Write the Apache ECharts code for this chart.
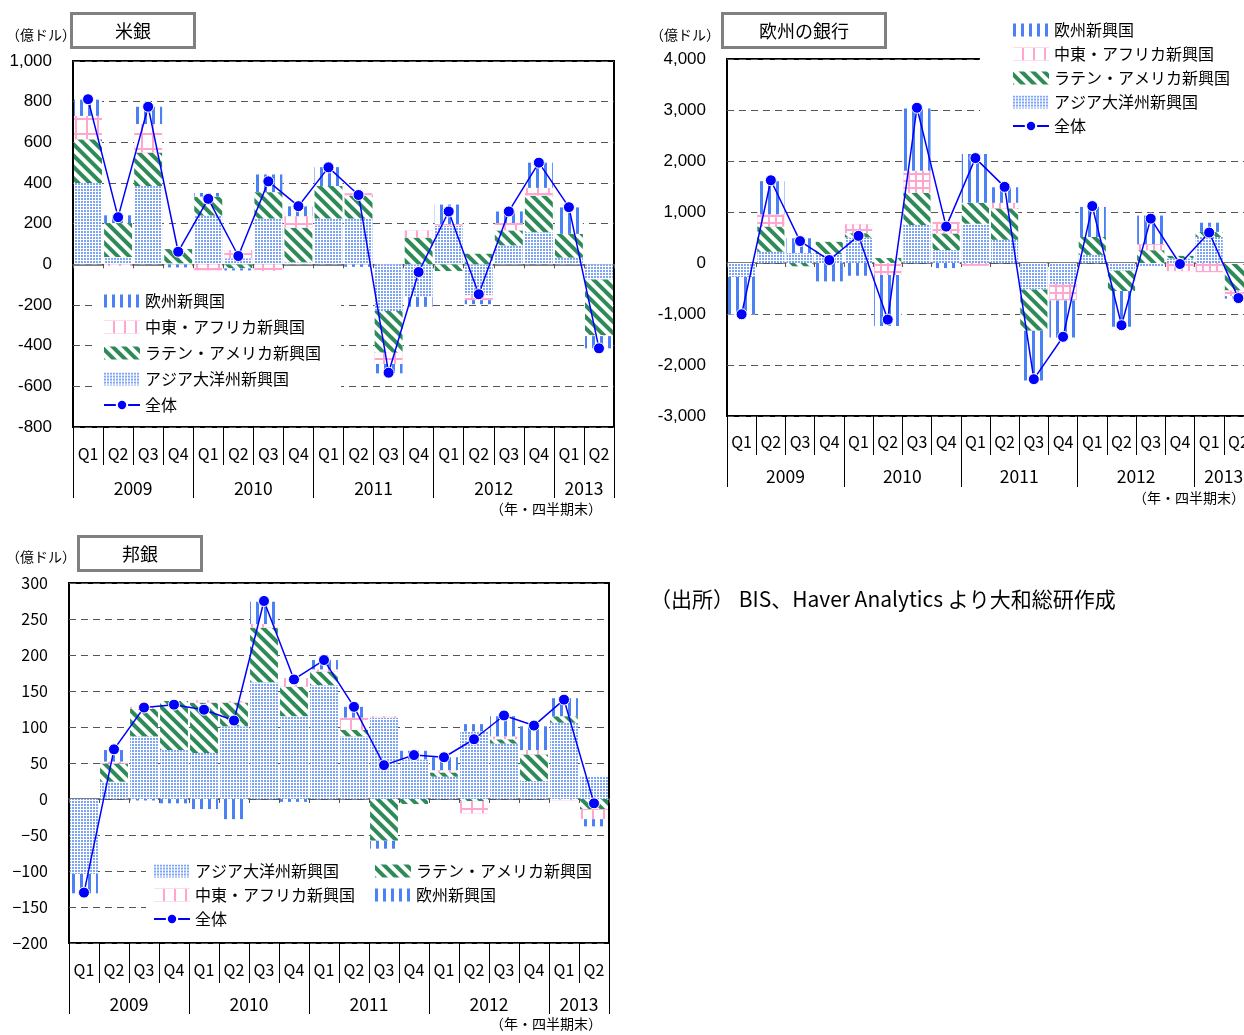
<!DOCTYPE html>
<html><head><meta charset="utf-8">
<script src="https://cdn.jsdelivr.net/npm/echarts@6/dist/echarts.min.js"></script>
<style>html,body{margin:0;padding:0;background:#fff}#c{width:1244px;height:1035px}</style>
</head><body><div id="c"></div>
<script>
// ---- categories ----
const quarters = ['Q1','Q2','Q3','Q4','Q1','Q2','Q3','Q4','Q1','Q2','Q3','Q4','Q1','Q2','Q3','Q4','Q1','Q2'];
const yearLabels = ['2009','2010','2011','2012','2013'];
const quartersPerYear = [4,4,4,4,2];
const seriesNames = ['アジア大洋州新興国','ラテン・アメリカ新興国','中東・アフリカ新興国','欧州新興国','全体'];

// ---- 米銀 (億ドル) ----
const usAsia   = [400, 36, 385, 5, 240, 30, 225, 10, 225, 225, -229, -160, 190, -152, 93, 158, 33, -75];
const usLatin  = [215, 167, 165, 70, 93, -20, 130, 170, 160, 113, -206, 131, -33, 52, 74, 180, 117, -273];
const usMidEast= [115, -8, 140, 0, -30, 40, -33, 57, 0, 12, -55, 36, 8, -24, 36, 38, 0, -5];
const usEurope = [80, 38, 85, -15, 18, -10, 87, 48, 93, -12, -46, -49, 96, -20, 57, 124, 130, -60];
const usTotal  = [812, 232, 775, 62, 322, 41, 408, 286, 477, 341, -533, -38, 260, -147, 260, 500, 281, -413];

// ---- 欧州の銀行 (億ドル) ----
const euAsia   = [-275, 220, 195, 175, 500, 0, 745, 255, 770, 455, -520, -410, 160, -150, -60, 90, 510, -20];
const euLatin  = [0, 495, -65, 240, 85, 97, 630, 325, 410, 615, -810, 0, 350, -400, 250, 50, 100, -520];
const euMidEast= [0, 240, 0, 0, 175, -234, 435, 225, -55, 110, 0, -325, 0, 0, 120, -160, -180, -110];
const euEurope = [-735, 650, 290, -360, -250, -1000, 1220, -100, 955, 305, -975, -725, 590, -700, 560, 0, 180, -50];
const euTotal  = [-1006, 1622, 430, 58, 532, -1110, 3044, 714, 2057, 1493, -2278, -1447, 1116, -1220, 870, -19, 597, -688];

// ---- 邦銀 (億ドル) ----
const jpAsia   = [-104, 24, 87, 68, 64, 101, 162, 115, 158, 87, 113, 55, 31, 94, 77, 25, 106, 32];
const jpLatin  = [0, 25, 38, 68, 70, 33, 76, 41, 19, 9, -58, -7, 6, -3, 6, 37, 9, -14];
const jpMidEast= [0, 3, 3, 0, 3, 2, 5, 12, 3, 17, 2, 0, 3, -17, 4, 6, -2, -14];
const jpEurope = [-27, 16, -2, -6, -14, -28, 31, -4, 13, 15, -11, 12, 18, 10, 28, 33, 25, -10];
const jpTotal  = [-130, 69, 127, 131, 124, 109, 275, 166, 193, 128, 47, 61, 58, 83, 116, 102, 138, -6];

// ---- year axis (half-step positions) ----
const yearAxisData = [];
const yearTickIdx = [0];
(function(){
  const n = quarters.length * 2 + 1;
  for (let i = 0; i < n; i++) yearAxisData.push('');
  let start = 0;
  quartersPerYear.forEach((q, k) => {
    const end = start + q * 2;
    yearAxisData[(start + end) / 2] = yearLabels[k];
    yearTickIdx.push(end);
    start = end;
  });
})();

const JP = '"Noto Sans CJK JP", sans-serif';
const AR = '"Liberation Sans", Arial, sans-serif';

function pats(big) {
  return {
    asia: {color:'#ffffff', decal:{symbol:'rect', color:'#7ea5f5', dashArrayX:[2,1], dashArrayY:[2,1]}},
    latin:{color:'#ffffff', decal:{symbol:'rect', color:'#2e8b57', dashArrayX:[1,0], dashArrayY:[4,4], rotation: Math.PI/4}},
    mid:  {color:'#ffa6cf', decal:{symbol:'rect', color:'#ffffff', dashArrayX: big ? [9,2] : [5,2], dashArrayY: big ? [13,2] : [5,2]}},
    eu:   {color:'#ffffff', decal:{symbol:'rect', color:'#4a82f5', dashArrayX:[2.5,4.5], dashArrayY:[1,0]}}
  };
}

const grids = [], xAxes = [], yAxes = [], series = [];

function panel(g, rect, yMin, yMax, yInt, data, yFmt, yFont, big, ticks) {
  grids.push(Object.assign({show:true, borderColor:'#000', borderWidth:2, backgroundColor:'transparent',
    containLabel:false, outerBoundsMode:'none'}, rect));
  // quarter axis
  xAxes.push({type:'category', gridIndex:g, data:quarters, position:'bottom',
    axisLine:{onZero:false, show:false},
    axisTick:{show:true, interval:0, length:ticks.q, lineStyle:{color:'#000', width:1}},
    axisLabel:{interval:0, margin:ticks.qm, fontSize:16, fontFamily:JP, color:'#000'},
    splitLine:{show:false}});
  // zero line axis
  xAxes.push({type:'category', gridIndex:g, data:quarters, position:'bottom',
    axisLine:{onZero:true, lineStyle:{color:'#555', width:1.5}},
    axisTick:{show:true, interval:0, length:4, lineStyle:{color:'#555'}},
    axisLabel:{show:false}, splitLine:{show:false}});
  // year axis
  xAxes.push({type:'category', gridIndex:g, data:yearAxisData, boundaryGap:false, position:'bottom',
    axisLine:{onZero:false, show:false},
    axisTick:{show:true, length:ticks.y, interval:(i)=>yearTickIdx.indexOf(i) >= 0, lineStyle:{color:'#000', width:1}},
    axisLabel:{interval:0, margin:ticks.ym, fontSize:17.5, fontFamily:JP, color:'#000'},
    splitLine:{show:false}});
  yAxes.push({type:'value', gridIndex:g, min:yMin, max:yMax, interval:yInt,
    axisLine:{show:false}, axisTick:{show:false},
    axisLabel:{margin:21, fontSize:yFont.size, fontFamily:yFont.family, color:'#000', formatter:yFmt},
    splitLine:{show:true, lineStyle:{color:'#555', type:[7,5], width:1.2}}});
  const p = pats(big);
  const keys = ['asia','latin','mid','eu'];
  [data.asia, data.latin, data.mid, data.eu].forEach((arr, k) => {
    series.push({name:seriesNames[k], type:'bar', xAxisIndex:g*3, yAxisIndex:g, stack:'s'+g,
      data:arr, barCategoryGap:'7%', itemStyle:p[keys[k]], emphasis:{disabled:true}, z:2});
  });
  series.push({name:seriesNames[4], type:'line', xAxisIndex:g*3, yAxisIndex:g, data:data.total,
    symbol:'circle', symbolSize:11, lineStyle:{color:'#0000ff', width:1.5},
    itemStyle:{color:'#0000ff', borderColor:'#fff', borderWidth:1}, emphasis:{disabled:true}, z:3});
}

const commaFmt = v => v.toLocaleString('en-US');
panel(0, {left:73, top:61, width:541, height:366}, -800, 1000, 200,
  {asia:usAsia, latin:usLatin, mid:usMidEast, eu:usEurope, total:usTotal},
  commaFmt, {size:17, family:AR}, true, {q:38, qm:19, y:71, ym:53});
panel(1, {left:727, top:59, width:526, height:357}, -3000, 4000, 1000,
  {asia:euAsia, latin:euLatin, mid:euMidEast, eu:euEurope, total:euTotal},
  commaFmt, {size:17, family:AR}, false, {q:39, qm:18, y:71, ym:52});
panel(2, {left:69, top:583, width:540, height:360}, -200, 300, 50,
  {asia:jpAsia, latin:jpLatin, mid:jpMidEast, eu:jpEurope, total:jpTotal},
  v => String(v).replace('-', '−'), {size:16, family:JP}, true, {q:40, qm:19, y:71, ym:53});

const legendText = {fontSize:16, fontFamily:JP, color:'#000'};
const legOrder = [seriesNames[3], seriesNames[2], seriesNames[1], seriesNames[0], seriesNames[4]];
function legData(names) { return names.map(n => n === '全体' ? {name:n} : {name:n, icon:'rect'}); }
const legendBase = {orient:'vertical', itemWidth:36, itemHeight:13, textStyle:legendText,
  backgroundColor:'#fff', selectedMode:false, z:10};

const titleText = {fontSize:18, fontWeight:'normal', fontFamily:JP, color:'#000'};
const option = {
  animation:false,
  backgroundColor:'#fff',
  title:[
    {text:'米銀', left:71, top:13, borderColor:'#808080', borderWidth:3, padding:[9,44,8,44], textStyle:titleText},
    {text:'欧州の銀行', left:722, top:13, borderColor:'#808080', borderWidth:3, padding:[9,37,8,37], textStyle:titleText},
    {text:'邦銀', left:78, top:536, borderColor:'#808080', borderWidth:3, padding:[9,44,8,44], textStyle:titleText}
  ],
  legend:[
    Object.assign({}, legendBase, {left:97, top:288, itemGap:10, padding:[5,20,5,6], data:legData(legOrder)}),
    Object.assign({}, legendBase, {left:980, top:12, itemGap:8, padding:[10,30,8,32], data:legData(legOrder)}),
    Object.assign({}, legendBase, {left:146, top:858, itemGap:8, padding:[5,14,5,7], data:legData([seriesNames[0], seriesNames[2], seriesNames[4]])}),
    Object.assign({}, legendBase, {left:368, top:858, itemGap:8, padding:[5,12,5,7], data:legData([seriesNames[1], seriesNames[3]])})
  ],
  grid:grids, xAxis:xAxes, yAxis:yAxes, series:series,
  graphic:[
    {type:'text', left:6, top:28, style:{text:'（億ドル）', font:'14px '+JP, fill:'#000'}},
    {type:'text', left:650, top:28, style:{text:'（億ドル）', font:'14px '+JP, fill:'#000'}},
    {type:'text', left:6, top:550, style:{text:'（億ドル）', font:'14px '+JP, fill:'#000'}},
    {type:'text', left:490, top:502, style:{text:'（年・四半期末）', font:'14px '+JP, fill:'#000'}},
    {type:'text', left:1133, top:491, style:{text:'（年・四半期末）', font:'14px '+JP, fill:'#000'}},
    {type:'text', left:490, top:1017, style:{text:'（年・四半期末）', font:'14px '+JP, fill:'#000'}},
    {type:'text', left:650, top:589, style:{text:'（出所） BIS、Haver Analytics より大和総研作成', font:'21px '+JP, fill:'#000'}}
  ]
};
echarts.init(document.getElementById('c')).setOption(option);
</script></body></html>
